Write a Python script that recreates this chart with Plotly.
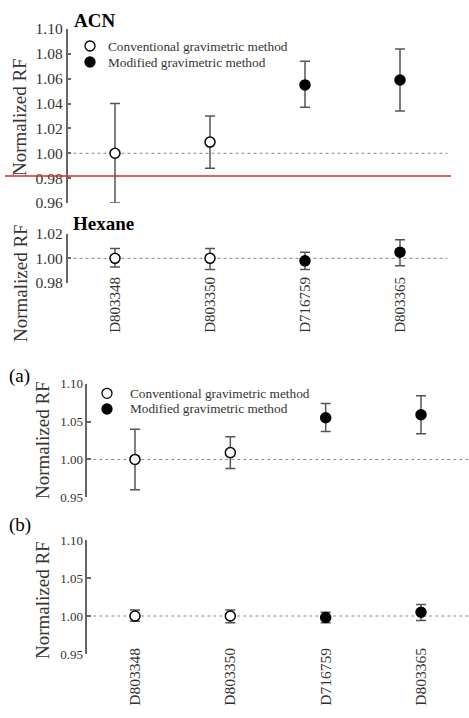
import plotly.graph_objects as go

# ---------------- data ----------------
SAMPLES = ["D803348", "D803350", "D716759", "D803365"]
CONVENTIONAL = ["D803348", "D803350"]
MODIFIED = ["D716759", "D803365"]

ACN_RF = [1.000, 1.009, 1.055, 1.059]
ACN_UP = [1.040, 1.030, 1.074, 1.084]
ACN_LO = [0.960, 0.988, 1.037, 1.034]

HEX_RF = [1.000, 1.000, 0.998, 1.005]
HEX_UP = [1.008, 1.008, 1.005, 1.015]
HEX_LO = [0.993, 0.991, 0.991, 0.994]

REF_RF = 1.00
LEGEND_LABELS = ["Conventional gravimetric method", "Modified gravimetric method"]

# ---------------- style ----------------
W, H = 469, 718
SERIF = "Liberation Serif"
AXC = "#666666"
TXT = "#333333"
ERRC = "#555555"


def fy(px):
    return 1 - px / H


def fx(px):
    return px / W


fig = go.Figure()


def add_panel(idx, rf, up, lo):
    xa = "x" if idx == 1 else f"x{idx}"
    ya = "y" if idx == 1 else f"y{idx}"
    for group, fill in ((CONVENTIONAL, "white"), (MODIFIED, "black")):
        ii = [SAMPLES.index(s) for s in group]
        fig.add_trace(go.Scatter(
            x=group,
            y=[rf[i] for i in ii],
            mode="markers",
            marker=dict(size=10, color=fill, line=dict(color="black", width=1.5)),
            error_y=dict(type="data", symmetric=False,
                         array=[up[i] - rf[i] for i in ii],
                         arrayminus=[rf[i] - lo[i] for i in ii],
                         color=ERRC, thickness=1.5, width=5),
            xaxis=xa, yaxis=ya, showlegend=False, cliponaxis=False,
        ))
    fig.add_shape(type="line", xref=f"{xa} domain", yref=ya,
                  x0=0, x1=1, y0=REF_RF, y1=REF_RF,
                  line=dict(color="#888888", width=1, dash="3px,3px"), layer="below")


add_panel(1, ACN_RF, ACN_UP, ACN_LO)
add_panel(2, HEX_RF, HEX_UP, HEX_LO)
add_panel(3, ACN_RF, ACN_UP, ACN_LO)
add_panel(4, HEX_RF, HEX_UP, HEX_LO)

TOP_X = [fx(67.5), fx(447.5)]
BOT_X = [fx(87.3), fx(468.7)]

xbase = dict(type="category", categoryorder="array", categoryarray=SAMPLES,
             range=[-0.5, 3.5], showgrid=False, zeroline=False, showline=False,
             ticks="", ticklen=0, automargin=False)
ybase = dict(showgrid=False, zeroline=False, showline=True, linecolor=AXC,
             linewidth=1.5, ticks="inside", ticklen=4, tickcolor=AXC, tickwidth=1.5,
             tickformat=".2f", automargin=False, mirror=False)

fig.update_layout(
    width=W, height=H, margin=dict(l=0, r=0, t=0, b=0),
    paper_bgcolor="white", plot_bgcolor="white",
    font=dict(family=SERIF, color=TXT),
    showlegend=False,
    xaxis=dict(xbase, domain=TOP_X, anchor="y", showticklabels=False),
    yaxis=dict(ybase, domain=[fy(203), fy(29)], range=[0.96, 1.10], dtick=0.02,
               tickfont=dict(size=15.5, family=SERIF, color=TXT)),
    xaxis2=dict(xbase, domain=TOP_X, anchor="y2", tickangle=-90, ticklabelstandoff=-10,
                tickfont=dict(size=15, family=SERIF, color=TXT)),
    yaxis2=dict(ybase, domain=[fy(283), fy(233.7)], range=[0.98, 1.02], dtick=0.02,
                anchor="x2", tickfont=dict(size=15.5, family=SERIF, color=TXT)),
    xaxis3=dict(xbase, domain=BOT_X, anchor="y3", showticklabels=False),
    yaxis3=dict(ybase, domain=[fy(497.3), fy(383.7)], range=[0.95, 1.10], dtick=0.05,
                anchor="x3", tickfont=dict(size=13, family=SERIF, color=TXT)),
    xaxis4=dict(xbase, domain=BOT_X, anchor="y4", tickangle=-90, ticklabelstandoff=-10,
                tickfont=dict(size=15.5, family=SERIF, color=TXT)),
    yaxis4=dict(ybase, domain=[fy(654), fy(540)], range=[0.95, 1.10], dtick=0.05,
                anchor="x4", tickfont=dict(size=13, family=SERIF, color=TXT)),
)

ann = []
# y-axis titles
for xc, yc in ((20, 117), (20, 283), (42, 440), (42, 600)):
    ann.append(dict(text="Normalized RF", x=fx(xc), y=fy(yc), xref="paper", yref="paper",
                    showarrow=False, textangle=-90, xanchor="center", yanchor="middle",
                    font=dict(size=19, family=SERIF, color=TXT)))
# panel titles
ann.append(dict(text="<b>ACN</b>", x=fx(72), y=fy(20), xref="paper", yref="paper",
                showarrow=False, xanchor="left", yanchor="middle",
                font=dict(size=19, family=SERIF, color="black")))
ann.append(dict(text="<b>Hexane</b>", x=fx(71), y=fy(224), xref="paper", yref="paper",
                showarrow=False, xanchor="left", yanchor="middle",
                font=dict(size=19, family=SERIF, color="black")))
ann.append(dict(text="(a)", x=fx(7), y=fy(376), xref="paper", yref="paper",
                showarrow=False, xanchor="left", yanchor="middle",
                font=dict(size=19, family=SERIF, color="black")))
ann.append(dict(text="(b)", x=fx(7), y=fy(525), xref="paper", yref="paper",
                showarrow=False, xanchor="left", yanchor="middle",
                font=dict(size=19, family=SERIF, color="black")))

# manual legends
shapes = []
for (cx, ys, tx) in ((90, (46, 62), 106), (107, (393.3, 409), 128)):
    for lbl, yy, fill in zip(LEGEND_LABELS, ys, ("white", "black")):
        shapes.append(dict(type="circle", xref="paper", yref="paper",
                           xsizemode="pixel", ysizemode="pixel",
                           xanchor=fx(cx), yanchor=fy(yy),
                           x0=-5, x1=5, y0=-5, y1=5,
                           fillcolor=fill, line=dict(color="black", width=1.3)))
        ann.append(dict(text=lbl, x=fx(tx), y=fy(yy), xref="paper", yref="paper",
                        showarrow=False, xanchor="left", yanchor="middle",
                        font=dict(size=13.3, family=SERIF, color=TXT)))

# red overlay line
shapes.append(dict(type="line", xref="paper", yref="paper",
                   x0=fx(5), x1=fx(451), y0=fy(176), y1=fy(176),
                   line=dict(color="#e0262c", width=1.5)))

fig.update_layout(annotations=ann)
for s in shapes:
    fig.add_shape(**s)

fig.write_html(
    "out.html",
    config={"displayModeBar": False},
    post_script="document.body.style.margin='0px';document.body.style.overflow='hidden';",
)
